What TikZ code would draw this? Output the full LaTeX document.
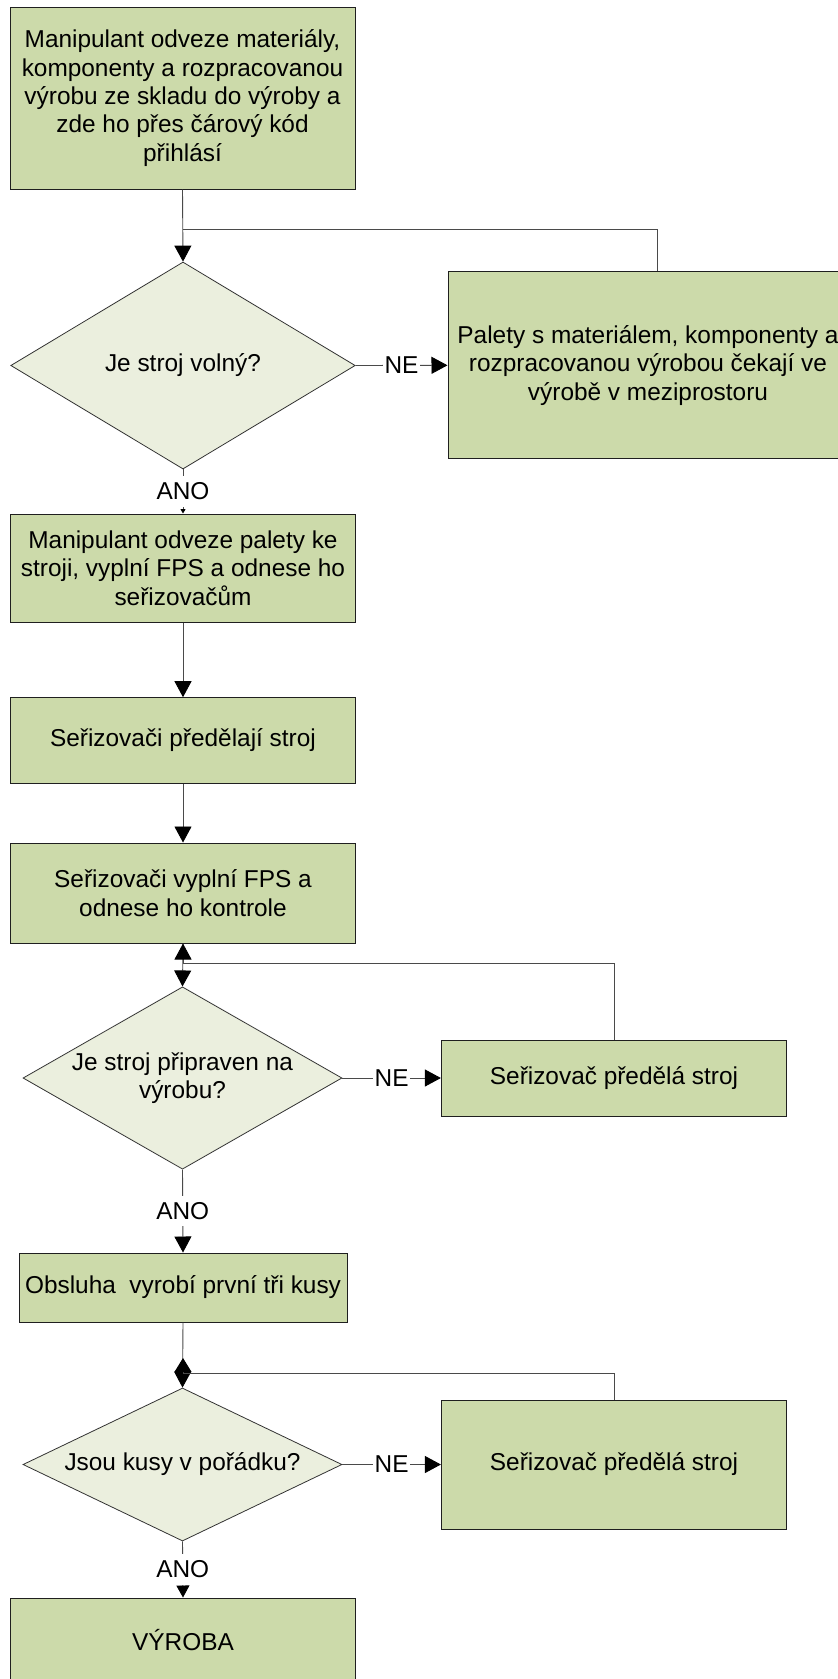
\documentclass[tikz,border=0pt]{standalone}
\usepackage{fontspec}
\setmainfont{Liberation Sans}
\usetikzlibrary{arrows.meta,shapes.geometric}
\definecolor{procfill}{HTML}{CCDAAA}
\definecolor{decfill}{HTML}{EBEFDE}
\definecolor{linegray}{HTML}{4A4A4A}

\tikzset{
  txt/.style={font=\fontsize{24.4}{28.3}\selectfont, align=center},
  proc/.style={txt, rectangle, draw=black!88, line width=1pt, fill=procfill, inner sep=0pt},
  dec/.style={diamond, draw=black!80, line width=0.8pt, fill=decfill, inner sep=0pt},
  conn/.style={draw=linegray, line width=0.9pt},
  arr/.style={conn, -{Triangle[length=16pt,width=17pt,color=black]}},
  shortarr/.style={conn, -{Triangle[length=14pt,width=17pt,color=black]}},
  tinyarr/.style={conn, -{Triangle[length=4.5pt,width=5pt,color=black]}},
  midarr/.style={conn, -{Triangle[length=12pt,width=13pt,color=black]}},
  lbl/.style={txt, fill=white, inner xsep=1.5pt, inner ysep=6.5pt},
}

\begin{document}
\begin{tikzpicture}[x=1pt,y=-1pt]
  \useasboundingbox (0,0) rectangle (838,1679);
  \fill[white] (0,0) rectangle (838,1679);
  \clip (0,0) rectangle (838,1679);

  % process boxes and decisions
  \node[proc, minimum width=345pt, minimum height=182pt] (box1) at (182.5,98)
    {Manipulant odveze materiály,\\komponenty a rozpracovanou\\výrobu ze skladu do výroby a\\zde ho přes čárový kód\\přihlásí};
  \node[dec, minimum width=344.5pt, minimum height=207pt,
        label={[txt]center:Je stroj volný?}] (d1) at (183,365.5) {};
  \node[proc, minimum width=400pt, minimum height=187.3pt] (rbox1) at (648,365.3)
    {Palety s materiálem, komponenty a\\rozpracovanou výrobou čekají ve\\výrobě v meziprostoru};
  \node[proc, minimum width=344.3pt, minimum height=108pt] (box2) at (183,568)
    {Manipulant odveze palety ke\\stroji, vyplní FPS a odnese ho\\seřizovačům};
  \node[proc, minimum width=344.3pt, minimum height=85.6pt] (box3) at (183,740.5)
    {Seřizovači předělají stroj};
  \node[proc, minimum width=344.3pt, minimum height=100pt] (box4) at (183,893)
    {Seřizovači vyplní FPS a\\odnese ho kontrole};
  \node[dec, minimum width=319pt, minimum height=182.3pt,
        label={[txt]center:{Je stroj připraven na\\výrobu?}}] (d2) at (182.5,1078) {};
  \node[proc, minimum width=345.2pt, minimum height=76pt] (rbox2) at (614,1078)
    {Seřizovač předělá stroj};
  \node[proc, minimum width=328pt, minimum height=69pt] (box5) at (183,1287.5)
    {Obsluha~ vyrobí první tři kusy};
  \node[dec, minimum width=319pt, minimum height=153pt,
        label={[txt]center:Jsou kusy v pořádku?}] (d3) at (182.5,1464.5) {};
  \node[proc, minimum width=345.2pt, minimum height=129pt] (rbox3) at (614,1464.5)
    {Seřizovač předělá stroj};
  \node[proc, minimum width=344.3pt, minimum height=84pt] (box6) at (183,1640)
    {VÝROBA};

  % junction points of the return loops
  \coordinate (j1) at (183,229);
  \coordinate (j2) at (183,963);
  \coordinate (j3) at (183,1373);
  \coordinate (j3top) at (183,1358);

  % first decision
  \draw[conn] ([xshift=9pt]rbox1.north) |- (j1);
  \draw[arr] (box1.south) -- (d1.north);
  \draw[arr] (d1.east) -- node[lbl] {NE} (rbox1.west);
  \draw[tinyarr] (d1.south) -- node[lbl] {ANO} (box2.north);

  % setting up the machine
  \draw[arr] (box2.south) -- (box3.north);
  \draw[arr] (box3.south) -- (box4.north);
  \draw[arr] (box4.south) -- (d2.north);
  \draw[arr] (rbox2.north) |- (j2) -- (box4.south);
  \draw[arr] (d2.east) -- node[lbl] {NE} (rbox2.west);
  \draw[arr] (d2.south) -- node[lbl] {ANO} (box5.north);

  % first pieces check
  \draw[arr] (box5.south) -- (d3.north);
  \draw[shortarr] (rbox3.north) |- (j3) -- (j3top);
  \draw[arr] (d3.east) -- node[lbl] {NE} (rbox3.west);
  \draw[midarr] (d3.south) -- node[lbl] {ANO} (box6.north);
\end{tikzpicture}
\end{document}
